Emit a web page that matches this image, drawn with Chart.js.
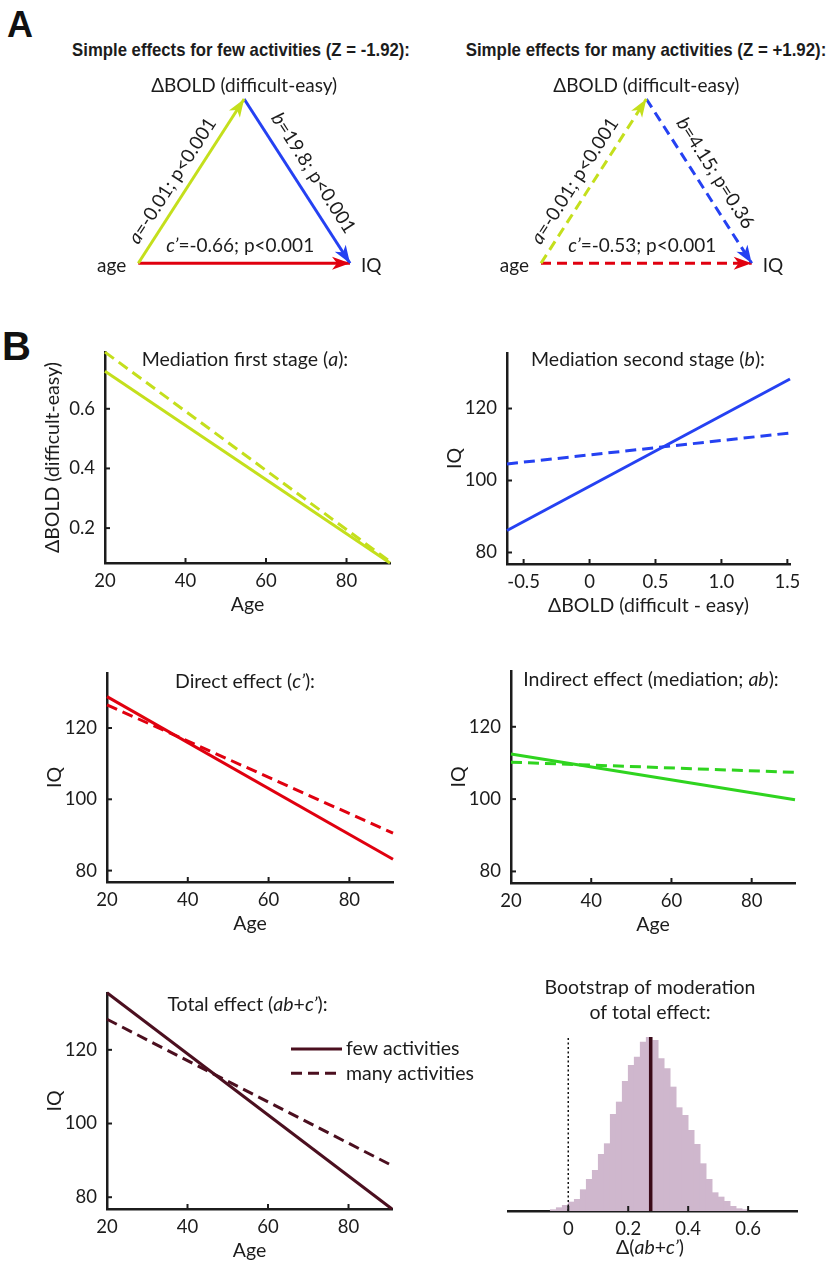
<!DOCTYPE html>
<html>
<head>
<meta charset="utf-8">
<title>Moderated mediation of age, BOLD and IQ</title>
<script src="https://cdn.jsdelivr.net/npm/chart.js@4.4.1/dist/chart.umd.min.js"></script>
<style>
  body { margin: 0; background: #fff; }
  #page { position: relative; width: 829px; height: 1263px; overflow: hidden; background: #fff; }
  canvas { position: absolute; }
  .letter { position: absolute; font: bold 36px "Liberation Sans", Arial, sans-serif; line-height: 1; color: #111; }
  .head { position: absolute; transform: translate(-50%, -50%); white-space: nowrap;
          font: bold 19px "Liberation Sans", Arial, sans-serif; color: #1c1c1c; }
</style>
</head>
<body>
<div id="page">
  <div class="letter" style="left:7px;top:7px">A</div>
  <div class="letter" style="left:2px;top:326px;font-size:40px">B</div>
  <div class="head" data-w="338" style="left:241px;top:50px">Simple effects for few activities (Z = -1.92):</div>
  <div class="head" data-w="361" style="left:646px;top:50px">Simple effects for many activities (Z = +1.92):</div>
</div>
<script>
// ---- panel A: path diagram ----
const nodeNames = ['age', 'ΔBOLD (difficult-easy)', 'IQ'];
const nodeX = [0, 0.5, 1];
const nodeY = [0, 1, 0];
const edgeFrom = [0, 1, 0];
const edgeTo = [1, 2, 2];
const fewPaths = ['_a_=-0.01; p<0.001', '_b_=19.8; p<0.001', '_c’_=-0.66; p<0.001'];
const manyPaths = ['_a_=-0.01; p<0.001', '_b_=4.15; p=0.36', '_c’_=-0.53; p<0.001'];

// ---- panel B: simple slopes (values at the ends of each range) ----
const ageRange = [20, 90.8];
const boldRange = [-0.626, 1.52];
const firstFew = [0.726, 0.083];
const firstMany = [0.79, 0.088];
const secondFew = [86.1, 128.2];
const secondMany = [104.6, 113.2];
const directFew = [128.8, 83.2];
const directMany = [126.5, 90.5];
const indirectFew = [112.5, 99.8];
const indirectMany = [110.2, 107.4];
const totalFew = [135.5, 76.8];
const totalMany = [128.3, 88.6];
const legendNames = ['few activities', 'many activities'];

const ageTicks = [20, 40, 60, 80];
const boldTicks = [-0.5, 0, 0.5, 1.0, 1.5];
const firstTicks = [0.2, 0.4, 0.6];
const iqTicks = [80, 100, 120];
const firstYRange = [0.083, 0.79];
const iqRange = [76.8, 135.4];

// ---- bootstrap histogram ----
const histCenters = [-0.05, -0.03, -0.01, 0.01, 0.03, 0.05, 0.07, 0.09, 0.11, 0.13, 0.15,
  0.17, 0.19, 0.21, 0.23, 0.25, 0.27, 0.29, 0.31, 0.33, 0.35, 0.37, 0.39, 0.41, 0.43,
  0.45, 0.47, 0.49, 0.51, 0.53, 0.55, 0.57, 0.59];
const histCounts = [4, 10, 17, 27, 35, 64, 95, 122, 170, 202, 290, 327, 389, 437, 462,
  507, 522, 512, 457, 427, 372, 310, 287, 242, 200, 142, 95, 55, 42, 29, 14, 7, 4];
const histRange = [-0.201, 0.763];
const histTicks = [0, 0.2, 0.4, 0.6];
const zeroLine = 0;
const meanLine = 0.275;

const FONT = 'Lato, "Open Sans", sans-serif';
const FS = 19.5;      // titles and labels
const FS_TICK = 18.5; // tick labels
const FS_A = 19;      // path diagram text
const INK = '#1c1c1c';
const LIME = '#c4df1c', BLUE = '#2541f2', RED = '#e0000f', GREEN = '#2fd41f';
const MAROON = '#4b0f1f', MAUVE = '#cfb7cd';
const DASH = [11, 6];

// squeeze the bold headings to the condensed width of the original
document.querySelectorAll('.head').forEach(el => {
  const k = +el.dataset.w / el.offsetWidth;
  el.style.transform = 'translate(-50%, -50%) scaleX(' + k.toFixed(3) + ')';
});

function makeCanvas(left, top, w, h) {
  const c = document.createElement('canvas');
  c.width = w; c.height = h;
  c.style.left = left + 'px'; c.style.top = top + 'px';
  c.style.width = w + 'px'; c.style.height = h + 'px';
  document.getElementById('page').appendChild(c);
  return c;
}

// text with _italic_ parts
function drawRich(ctx, str, x, y, align, size) {
  size = size || FS;
  const segs = str.split('_').map((t, i) => [t, i % 2 === 1]).filter(s => s[0]);
  let w = 0;
  segs.forEach(s => {
    ctx.font = (s[1] ? 'italic ' : '') + size + 'px ' + FONT;
    s.push(ctx.measureText(s[0]).width);
    w += s[2];
  });
  let cx = align === 'center' ? x - w / 2 : align === 'right' ? x - w : x;
  ctx.textAlign = 'left';
  ctx.textBaseline = 'middle';
  ctx.fillStyle = INK;
  segs.forEach(s => {
    ctx.font = (s[1] ? 'italic ' : '') + size + 'px ' + FONT;
    ctx.fillText(s[0], cx, y);
    cx += s[2];
  });
}

// ---------- panel A ----------
const edgeColors = [LIME, BLUE, RED];
const labelOff = [16, 18, -17];
const labelAlong = [-10, 2, -4];

const arrowPlugin = {
  id: 'arrows',
  afterDatasetsDraw(chart) {
    const ctx = chart.ctx;
    const xs = chart.scales.x, ys = chart.scales.y;
    const node = nodeX.map((v, i) => ({x: xs.getPixelForValue(v), y: ys.getPixelForValue(nodeY[i])}));
    const cx = (node[0].x + node[1].x + node[2].x) / 3, cy = (node[0].y + node[1].y + node[2].y) / 3;
    chart.data.datasets.forEach((ds, i) => {
      const pts = chart.getDatasetMeta(i).data;
      const a = pts[0], b = pts[1];
      const ang = Math.atan2(b.y - a.y, b.x - a.x);
      ctx.save();
      ctx.translate(b.x, b.y);
      ctx.rotate(ang);
      ctx.fillStyle = ds.borderColor;
      ctx.beginPath();
      ctx.moveTo(0, 0);
      ctx.lineTo(-18, -6.5);
      ctx.lineTo(-13, 0);
      ctx.lineTo(-18, 6.5);
      ctx.closePath();
      ctx.fill();
      ctx.restore();

      const dx = Math.cos(ang), dy = Math.sin(ang);
      const mx = (a.x + b.x) / 2, my = (a.y + b.y) / 2;
      let nx = -dy, ny = dx;
      if (nx * (mx - cx) + ny * (my - cy) < 0) { nx = -nx; ny = -ny; }
      const px = mx + nx * labelOff[i] + dx * labelAlong[i];
      const py = my + ny * labelOff[i] + dy * labelAlong[i];
      ctx.save();
      ctx.translate(px, py);
      ctx.rotate(ang);
      drawRich(ctx, ds.pathLabel, 0, 0, 'center', FS_A);
      ctx.restore();
    });
    drawRich(ctx, nodeNames[1], node[1].x, node[1].y - 13, 'center', FS_A);
    drawRich(ctx, nodeNames[0], node[0].x - 12, node[0].y + 3, 'right', FS_A);
    drawRich(ctx, nodeNames[2], node[2].x + 11, node[2].y + 3, 'left', FS_A);
  }
};

function triangle(left, width, pad, labels, dashed) {
  const cv = makeCanvas(left, 60, width, 230);
  new Chart(cv, {
    type: 'scatter',
    data: {
      datasets: edgeFrom.map((f, i) => ({
        data: [{x: nodeX[f], y: nodeY[f]}, {x: nodeX[edgeTo[i]], y: nodeY[edgeTo[i]]}],
        showLine: true,
        borderColor: edgeColors[i],
        backgroundColor: edgeColors[i],
        borderWidth: 3,
        borderDash: dashed ? [10, 6] : [],
        pointRadius: 0,
        clip: false,
        pathLabel: labels[i]
      }))
    },
    options: {
      responsive: false,
      animation: false,
      layout: {padding: pad},
      scales: {
        x: {display: false, min: 0, max: 1},
        y: {display: false, min: 0, max: 1}
      },
      plugins: {legend: {display: false}, tooltip: {enabled: false}}
    },
    plugins: [arrowPlugin]
  });
}

triangle(0, 415, {left: 138.3, right: 65, top: 39, bottom: 26.7}, fewPaths, false);
triangle(415, 414, {left: 126, right: 77.3, top: 39, bottom: 26.7}, manyPaths, true);

// ---------- panel B ----------
const YW = 64, XH = 53;

const inTicks = {
  id: 'inTicks',
  afterDraw(chart) {
    const ctx = chart.ctx;
    const xs = chart.scales.x, ys = chart.scales.y;
    ctx.save();
    ctx.strokeStyle = INK;
    ctx.lineWidth = 2;
    xs.ticks.forEach(t => {
      const p = xs.getPixelForValue(t.value);
      ctx.beginPath(); ctx.moveTo(p, xs.top); ctx.lineTo(p, xs.top - 5); ctx.stroke();
    });
    if (ys.options.display) {
      ys.ticks.forEach(t => {
        const p = ys.getPixelForValue(t.value);
        ctx.beginPath(); ctx.moveTo(ys.right, p); ctx.lineTo(ys.right + 5, p); ctx.stroke();
      });
    }
    ctx.restore();
  }
};

function seg(xr, yr, color, dashed) {
  return {
    type: 'scatter',
    data: [{x: xr[0], y: yr[0]}, {x: xr[1], y: yr[1]}],
    showLine: true,
    borderColor: color,
    backgroundColor: color,
    borderWidth: 3,
    borderDash: dashed ? DASH : [],
    pointRadius: 0,
    clip: false
  };
}

function plot(cfg) {
  const [l, t, r, b] = cfg.area;
  const padTop = cfg.padTop ?? 20, padRight = cfg.padRight ?? 20, padLeft = cfg.padLeft ?? 0;
  const yw = cfg.yTicks ? YW : 0;
  const left = Math.round(l) - yw - padLeft, top = Math.round(t) - padTop;
  const w = Math.round(r) - left + padRight, h = Math.round(b) - top + XH;
  const cv = makeCanvas(left, top, w, h);
  const tickFont = {family: FONT, size: FS_TICK};
  const titleFont = {family: FONT, size: FS};

  const y = cfg.yTicks ? {
    type: 'linear', min: cfg.y[0], max: cfg.y[1],
    grid: {display: false, drawTicks: false},
    border: {display: true, color: INK, width: 2.5},
    ticks: {font: tickFont, color: INK, padding: 10, autoSkip: false, callback: cfg.fy || (v => String(v))},
    afterBuildTicks: s => { s.ticks = cfg.yTicks.map(v => ({value: v})); },
    afterFit: s => { s.width = YW; },
    title: {display: true, text: cfg.yTitle, font: titleFont, color: INK, padding: 0}
  } : {display: false, min: cfg.y[0], max: cfg.y[1]};

  const textPlugin = {
    id: 'texts',
    afterDraw(chart) {
      const ctx = chart.ctx;
      (cfg.texts || []).forEach(([s, x, yy, al]) => drawRich(ctx, s, x - left, yy - top, al || 'center'));
      const lg = cfg.legend;
      if (lg) {
        lg.names.forEach((name, i) => {
          const ds = chart.data.datasets[i];
          const xx = lg.x - left, yy = lg.y - top + i * lg.dy;
          ctx.save();
          ctx.strokeStyle = ds.borderColor;
          ctx.lineWidth = ds.borderWidth;
          ctx.setLineDash(ds.borderDash || []);
          ctx.beginPath(); ctx.moveTo(xx, yy); ctx.lineTo(xx + lg.len, yy); ctx.stroke();
          ctx.restore();
          drawRich(ctx, name, xx + lg.len + 4, yy, 'left');
        });
      }
    }
  };

  return new Chart(cv, {
    type: cfg.type || 'scatter',
    data: {datasets: cfg.datasets},
    options: {
      responsive: false,
      animation: false,
      layout: {padding: {top: padTop, right: padRight, left: padLeft, bottom: 0}},
      scales: {
        x: {
          type: 'linear', min: cfg.x[0], max: cfg.x[1], offset: false,
          grid: {display: false, drawTicks: false, offset: false},
          border: {display: true, color: INK, width: 2.5},
          ticks: {font: tickFont, color: INK, padding: 6.5, autoSkip: false, maxRotation: 0, callback: cfg.fx || (v => String(v))},
          afterBuildTicks: s => { s.ticks = cfg.xTicks.map(v => ({value: v})); },
          afterFit: s => { s.height = XH; },
          title: {display: !!cfg.xTitle, text: cfg.xTitle, font: titleFont, color: INK, padding: 0}
        },
        y
      },
      plugins: {legend: {display: false}, tooltip: {enabled: false}}
    },
    plugins: [inTicks, textPlugin]
  });
}

const oneDec = v => v === 0 ? '0' : v.toFixed(1);

plot({
  area: [105, 350.5, 390, 563],
  x: ageRange, y: firstYRange, xTicks: ageTicks, yTicks: firstTicks, fy: oneDec,
  xTitle: 'Age', yTitle: 'ΔBOLD (difficult-easy)',
  texts: [['Mediation first stage (_a_):', 245, 360]],
  datasets: [seg(ageRange, firstFew, LIME, false), seg(ageRange, firstMany, LIME, true)]
});

plot({
  area: [506.7, 351.7, 790, 564],
  x: boldRange, y: iqRange, xTicks: boldTicks, yTicks: iqTicks, fx: oneDec,
  xTitle: 'ΔBOLD (difficult - easy)', yTitle: 'IQ',
  texts: [['Mediation second stage (_b_):', 648, 360]],
  datasets: [seg(boldRange, secondFew, BLUE, false), seg(boldRange, secondMany, BLUE, true)]
});

plot({
  area: [107.3, 671.7, 392.7, 882.3],
  x: ageRange, y: iqRange, xTicks: ageTicks, yTicks: iqTicks,
  xTitle: 'Age', yTitle: 'IQ',
  texts: [['Direct effect (_c’_):', 245, 682]],
  datasets: [seg(ageRange, directFew, RED, false), seg(ageRange, directMany, RED, true)]
});

plot({
  area: [511, 670, 795, 883.3],
  x: ageRange, y: iqRange, xTicks: ageTicks, yTicks: iqTicks,
  xTitle: 'Age', yTitle: 'IQ',
  texts: [['Indirect effect (mediation; _ab_):', 651, 680]],
  datasets: [seg(ageRange, indirectFew, GREEN, false), seg(ageRange, indirectMany, GREEN, true)]
});

plot({
  area: [107.3, 991.7, 391.7, 1209.3],
  padRight: 100,
  x: ageRange, y: iqRange, xTicks: ageTicks, yTicks: iqTicks,
  xTitle: 'Age', yTitle: 'IQ',
  texts: [['Total effect (_ab_+_c’_):', 247.5, 1005]],
  legend: {names: legendNames, x: 291, y: 1049, dy: 24.3, len: 51},
  datasets: [seg(ageRange, totalFew, MAROON, false), seg(ageRange, totalMany, MAROON, true)]
});

const histTop = Math.max(...histCounts);
plot({
  type: 'bar',
  area: [508, 1036.7, 796.7, 1210.7],
  padTop: 70, padLeft: 20,
  x: histRange, y: [0, histTop], xTicks: histTicks, fx: oneDec,
  texts: [
    ['Bootstrap of moderation', 650, 988],
    ['of total effect:', 650, 1013],
    ['Δ(_ab_+_c’_)', 650, 1248]
  ],
  datasets: [
    {type: 'line', data: [{x: meanLine, y: 0}, {x: meanLine, y: histTop}],
     borderColor: '#3a0a18', borderWidth: 3.5, pointRadius: 0, clip: false},
    {type: 'line', data: [{x: zeroLine, y: 0}, {x: zeroLine, y: histTop}],
     borderColor: '#111', borderWidth: 1.5, borderDash: [2, 2.5], pointRadius: 0, clip: false},
    {type: 'bar', data: histCenters.map((c, i) => ({x: c, y: histCounts[i]})),
     backgroundColor: MAUVE, borderWidth: 0, barPercentage: 1, categoryPercentage: 1}
  ]
});
</script>
</body>
</html>
